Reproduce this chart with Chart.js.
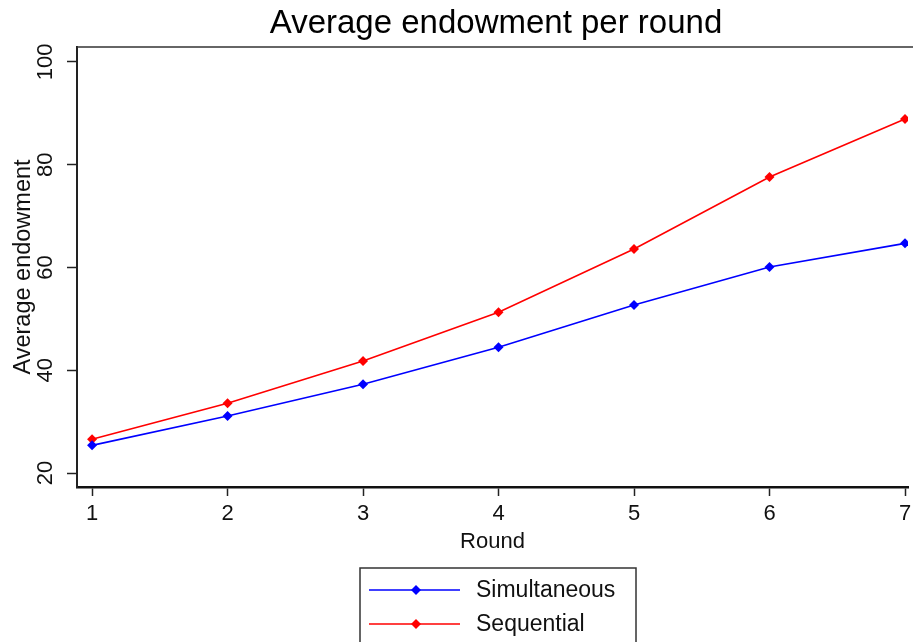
<!DOCTYPE html>
<html>
<head>
<meta charset="utf-8">
<script src="https://cdn.jsdelivr.net/npm/chart.js@4.4.1/dist/chart.umd.min.js"></script>
<style>
  body { margin: 0; background: #fff; }
</style>
</head>
<body>
<canvas id="graf1" width="913" height="642"></canvas>
<script>
// values
var rounds = [1, 2, 3, 4, 5, 6, 7];
var simultaneous = [25.4, 31.1, 37.3, 44.5, 52.7, 60.1, 64.7];
var sequential = [26.6, 33.6, 41.8, 51.3, 63.6, 77.6, 88.9];
var yTicks = [20, 40, 60, 80, 100];
var seriesNames = ['Simultaneous', 'Sequential'];
var chartTitle = 'Average endowment per round';

var FONT = '"Liberation Sans", Arial, sans-serif';

function toPoints(values) {
  return rounds.map(function(r, i) { return { x: r, y: values[i] }; });
}

// title, top frame line, rotated y labels and the legend box
var extras = {
  id: 'extras',
  afterDraw: function(chart) {
    var ctx = chart.ctx;
    var area = chart.chartArea;
    var yScale = chart.scales.y;
    var cx = (area.left + area.right) / 2;

    ctx.save();
    // top frame
    ctx.strokeStyle = '#333';
    ctx.lineWidth = 1.5;
    ctx.beginPath();
    ctx.moveTo(area.left, area.top);
    ctx.lineTo(913, area.top);
    ctx.stroke();

    // title
    ctx.fillStyle = '#000';
    ctx.font = '33px ' + FONT;
    ctx.textAlign = 'center';
    ctx.textBaseline = 'middle';
    ctx.fillText(chartTitle, 496, 24);

    // y tick labels, rotated
    ctx.fillStyle = '#111';
    ctx.font = '22px ' + FONT;
    yTicks.forEach(function(v) {
      var py = yScale.getPixelForValue(v);
      ctx.save();
      ctx.translate(46, py);
      ctx.rotate(-Math.PI / 2);
      ctx.fillText(String(v), 0, 0);
      ctx.restore();
    });

    // legend
    var bx = 360, boxW = 276, boxTop = 568;
    ctx.strokeStyle = '#333';
    ctx.lineWidth = 1.5;
    ctx.strokeRect(bx, boxTop, boxW, 90);
    ctx.font = '23px ' + FONT;
    ctx.textAlign = 'left';
    chart.data.datasets.forEach(function(ds, i) {
      var ly = 590 + i * 34;
      ctx.strokeStyle = ds.borderColor;
      ctx.lineWidth = 1.5;
      ctx.beginPath();
      ctx.moveTo(bx + 9, ly);
      ctx.lineTo(bx + 100, ly);
      ctx.stroke();
      ctx.fillStyle = ds.backgroundColor;
      ctx.beginPath();
      ctx.moveTo(bx + 56, ly - 5);
      ctx.lineTo(bx + 61, ly);
      ctx.lineTo(bx + 56, ly + 5);
      ctx.lineTo(bx + 51, ly);
      ctx.closePath();
      ctx.fill();
      ctx.fillStyle = '#111';
      ctx.fillText(ds.label, bx + 116, ly + 1);
    });
    ctx.restore();
  }
};

var g1 = document.getElementById('graf1');

var chart = new Chart(g1, {
  type: 'line',
  data: {
    datasets: [
      {
        label: seriesNames[0],
        data: toPoints(simultaneous),
        borderColor: '#0000ff',
        backgroundColor: '#0000ff',
        borderWidth: 1.6,
        pointStyle: 'rectRot',
        pointRadius: 5,
        pointBorderWidth: 0,
        tension: 0
      },
      {
        label: seriesNames[1],
        data: toPoints(sequential),
        borderColor: '#ff0000',
        backgroundColor: '#ff0000',
        borderWidth: 1.6,
        pointStyle: 'rectRot',
        pointRadius: 5,
        pointBorderWidth: 0,
        tension: 0
      }
    ]
  },
  options: {
    responsive: false,
    animation: false,
    layout: { padding: { top: 47, right: 0, bottom: 0, left: 0 } },
    plugins: {
      legend: { display: false },
      title: { display: false },
      tooltip: { enabled: false }
    },
    scales: {
      x: {
        type: 'linear',
        min: 0.889,
        max: 7.022,
        afterBuildTicks: function(scale) {
          scale.ticks = rounds.map(function(r) { return { value: r }; });
        },
        afterFit: function(scale) {
          scale.height = 155;
          scale.paddingLeft = 0;
          scale.paddingRight = 0;
        },
        grid: {
          drawOnChartArea: false,
          drawTicks: true,
          tickLength: 9,
          tickWidth: 1.5,
          tickColor: '#222'
        },
        border: { display: true, color: '#111', width: 2.5 },
        ticks: {
          color: '#111',
          font: { family: FONT, size: 22 },
          padding: 5,
          maxRotation: 0,
          autoSkip: false
        },
        title: {
          display: true,
          text: 'Round',
          color: '#111',
          font: { family: FONT, size: 22 },
          padding: { top: 0, bottom: 87 }
        }
      },
      y: {
        type: 'linear',
        min: 17.3,
        max: 102.9,
        afterBuildTicks: function(scale) {
          scale.ticks = yTicks.map(function(v) { return { value: v }; });
        },
        afterFit: function(scale) {
          scale.width = 77;
        },
        grid: {
          drawOnChartArea: false,
          drawTicks: true,
          tickLength: 10,
          tickWidth: 1.5,
          tickColor: '#222'
        },
        border: { display: true, color: '#222', width: 2 },
        ticks: { display: false },
        title: {
          display: true,
          text: 'Average endowment',
          color: '#111',
          font: { family: FONT, size: 23.5 },
          padding: { top: 9, bottom: 0 }
        }
      }
    }
  },
  plugins: [extras]
});
</script>
</body>
</html>
